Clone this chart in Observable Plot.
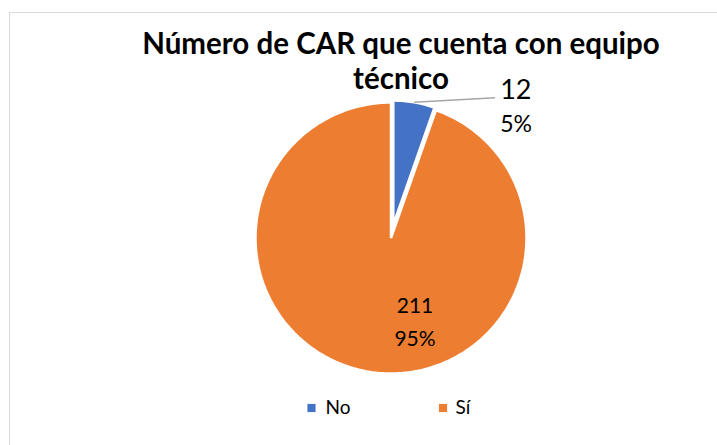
<!DOCTYPE html>
<html><head><meta charset="utf-8">
<script src="https://cdn.jsdelivr.net/npm/d3@7"></script>
<script src="https://cdn.jsdelivr.net/npm/@observablehq/plot@0.6"></script>
<style>html,body{margin:0;padding:0;background:#fff} svg{display:block}</style>
</head><body><div id="chart"></div>
<script>
// ---- data ----
const categories = ["No", "Sí"];
const values = [12, 211];
const titleLines = ["Número de CAR que cuenta con equipo", "técnico"];
const colors = ["#4472C4", "#ED7D31"];

// ---- layout / style ----
const W = 717, H = 445, CX = 390.5, CY = 237.5, R = 135.5;
const explodePx = [13.6, 0];
const radiusPx = [124, 135.5];
const FONT = "Lato, 'Open Sans', sans-serif";

const total = d3.sum(values);
let acc = 0;
const slices = categories.map((cat, i) => {
  const a0 = acc / total * 2 * Math.PI; acc += values[i];
  const a1 = acc / total * 2 * Math.PI;
  const mid = (a0 + a1) / 2;
  const off = explodePx[i] / R, r = radiusPx[i] / R;
  return {cat, value: values[i], pct: Math.round(values[i] / total * 100) + "%",
          a0, a1, mid, ou: off * Math.sin(mid), ov: off * Math.cos(mid), r};
});
const points = [];
for (const s of slices) {
  points.push({cat: s.cat, u: s.ou, v: s.ov});
  const n = Math.max(2, Math.ceil((s.a1 - s.a0) / (Math.PI / 180)));
  for (let k = 0; k <= n; k++) {
    const a = s.a0 + (s.a1 - s.a0) * k / n;
    points.push({cat: s.cat, u: s.ou + s.r * Math.sin(a), v: s.ov + s.r * Math.cos(a)});
  }
}
const blue = slices[0], orange = slices[1];
const leadStart = {u: blue.ou + blue.r * Math.sin(blue.mid), v: blue.ov + blue.r * Math.cos(blue.mid)};
const leadEnd = {u: leadStart.u + 81 / R, v: leadStart.v + 4.5 / R};
const inLabelR = 0.68;

const legendMarks = categories.flatMap((c, i) => [
  Plot.dot([c], {frameAnchor: "top-left", dx: 311 + i * 131.5, dy: 407.5, symbol: "square", r: 4.6, fill: colors[i], stroke: null}),
  Plot.text([c], {frameAnchor: "top-left", text: d => d, dx: 325 + i * 130, dy: 407.5, textAnchor: "start", lineAnchor: "middle", fontSize: 19, fontFamily: FONT, fill: "#000"})
]);

const chart = Plot.plot({
  width: W, height: H, margin: 0,
  x: {domain: [-CX / R, (W - CX) / R], range: [0, W], axis: null},
  y: {domain: [-(H - CY) / R, CY / R], range: [H, 0], axis: null},
  color: {domain: categories, range: colors},
  style: {fontFamily: FONT, background: "#fff"},
  marks: [
    Plot.frame({stroke: "#D9D9D9", insetLeft: 9, insetTop: 12, insetRight: -5, insetBottom: -5}),
    Plot.line(points, {x: "u", y: "v", z: "cat", fill: "cat", stroke: "white", strokeWidth: 2.5, strokeLinejoin: "miter", curve: "linear-closed"}),
    Plot.text([titleLines.join("\n")], {frameAnchor: "top", text: d => d, dx: 42, dy: 28.5, lineAnchor: "top", lineHeight: 1.19, fontSize: 29.5, fontWeight: 700, fontFamily: FONT, fill: "#000"}),
    Plot.link([leadStart], {x1: "u", y1: "v", x2: () => leadEnd.u, y2: () => leadEnd.v, stroke: "#A6A6A6", strokeWidth: 1.5}),
    Plot.text([blue], {x: () => leadEnd.u, y: () => leadEnd.v, text: d => String(d.value), dx: 5, dy: -7.5, textAnchor: "start", fontSize: 27, fontFamily: FONT, fill: "#000"}),
    Plot.text([blue], {x: () => leadEnd.u, y: () => leadEnd.v, text: d => d.pct, dx: 5, dy: 27, textAnchor: "start", fontSize: 23, fontFamily: FONT, fill: "#000"}),
    Plot.text([orange], {x: d => inLabelR * Math.sin(d.mid), y: d => inLabelR * Math.cos(d.mid), text: d => `${d.value}\n${d.pct}`, dx: 39.5, dy: -10, lineHeight: 1.6, fontSize: 21, fontFamily: FONT, fill: "#000"}),
    ...legendMarks
  ]
});
document.getElementById("chart").append(chart);
</script>
</body></html>
